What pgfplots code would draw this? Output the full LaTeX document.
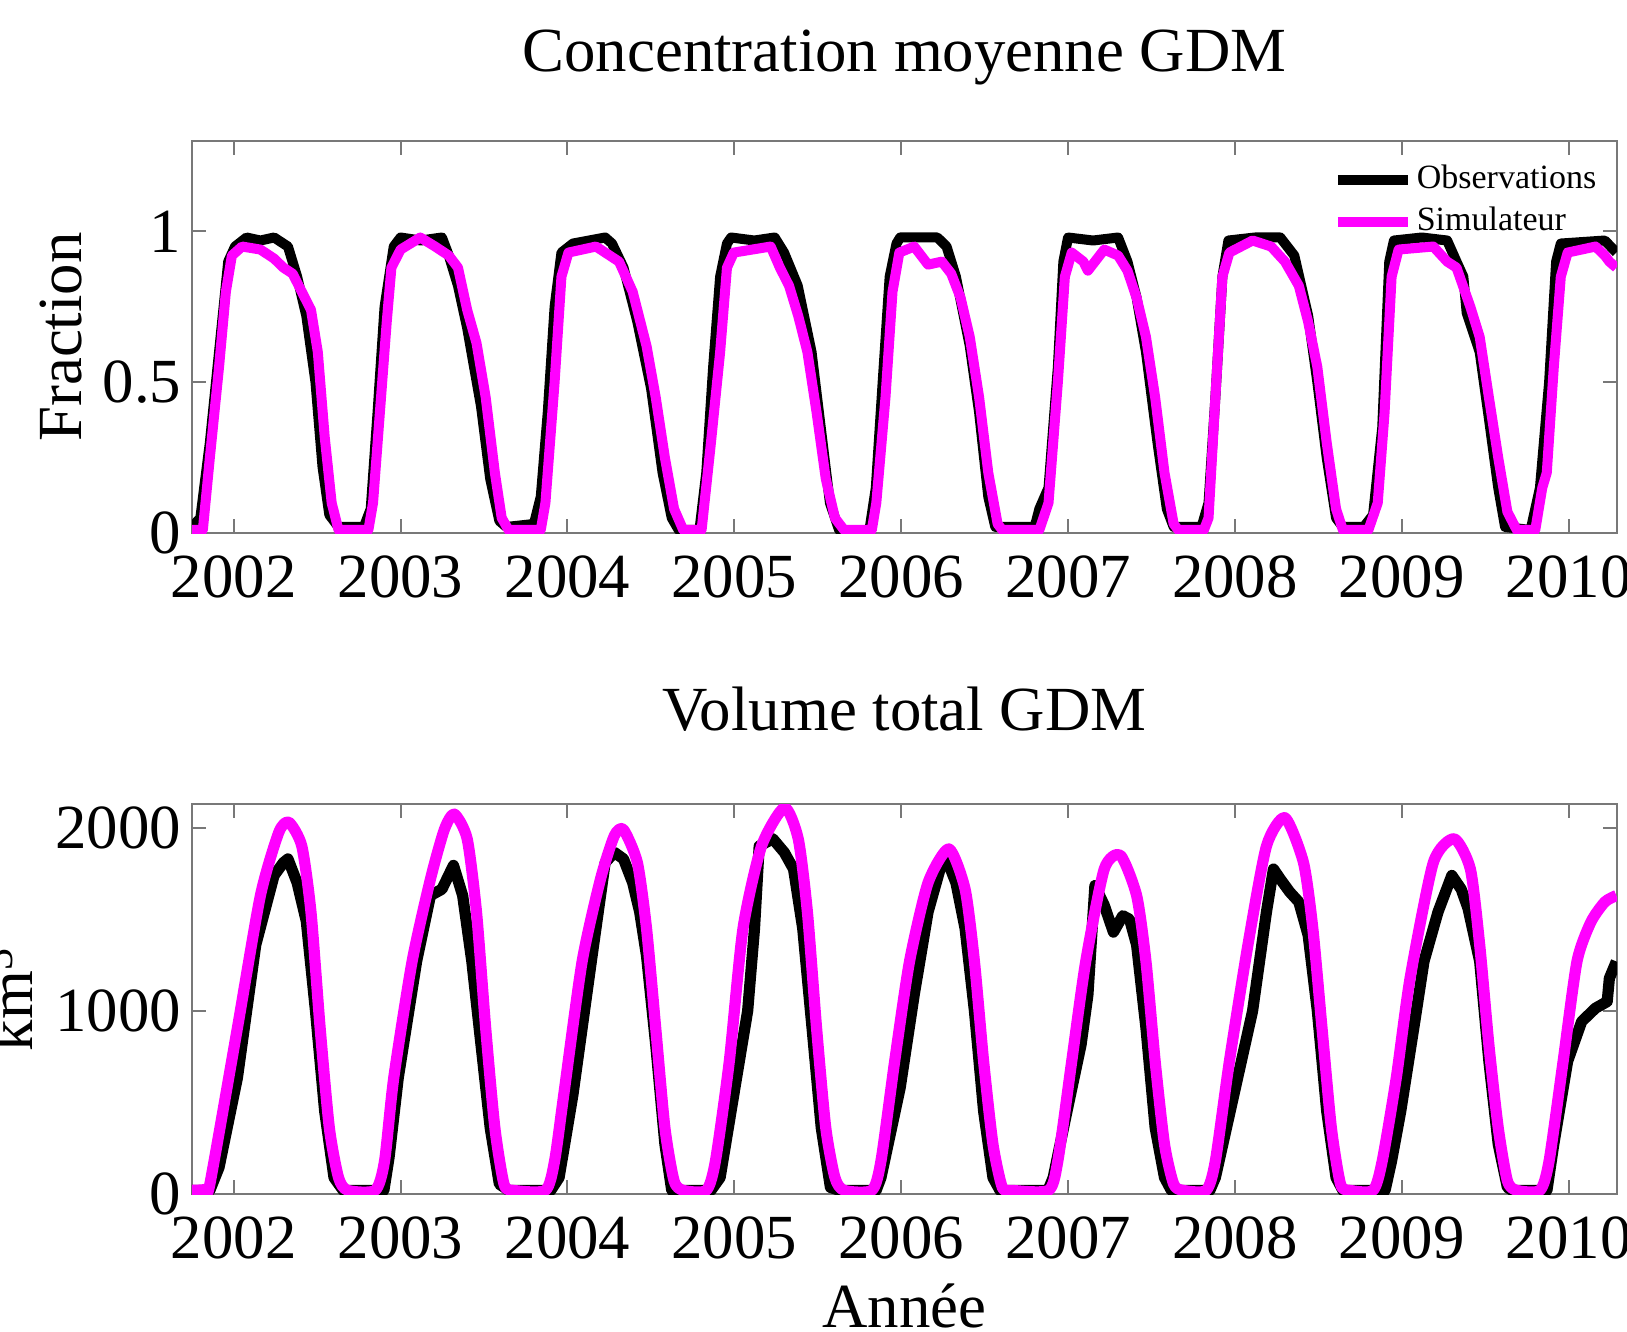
\documentclass[border=0pt]{standalone}
\usepackage{fontspec}
\setmainfont{Liberation Serif}
\usepackage{pgfplots}
\pgfplotsset{compat=1.18}

\definecolor{simmag}{RGB}{255,0,255}
\definecolor{axgray}{RGB}{120,120,120}

\pgfplotsset{
  gdm/.style={
    scale only axis, width=356.25pt, anchor=south west,
    xmin=2001.75, xmax=2010.29,
    xtick={2002,2003,2004,2005,2006,2007,2008,2009,2010},
    tick align=inside, major tick length=3.5pt,
    axis line style={axgray, line width=0.5pt},
    every tick/.style={axgray, line width=0.5pt},
    /pgf/number format/1000 sep={},
    /pgf/number format/assume math mode=true,
    scaled ticks=false,
    font=\fontsize{15.7}{18}\selectfont,
    tick label style={font=\fontsize{15.7}{18}\selectfont, inner sep=1pt},
    xticklabel style={yshift=-4.5pt},
    yticklabel style={xshift=-1.5pt},
    every axis y label/.style={rotate=90, anchor=base},
  },
  obs/.style={black, line width=2.5pt, line join=round},
  sim/.style={simmag, line width=2.5pt, line join=round},
}

\begin{document}
\begin{tikzpicture}
\path[use as bounding box] (0,0) rectangle (406.75pt,332.75pt);

% top: mean concentration
\begin{axis}[gdm, at={(48pt,199.5pt)}, height=98pt,
  ymin=0, ymax=1.3, ytick={0,0.5,1},
  title={Concentration moyenne GDM},
  title style={at={(axis description cs:0.5,1)}, anchor=base, yshift=11.4pt},
  ylabel={Fraction},
  ylabel style={at={(axis description cs:-0.0772,0.5)}},
  legend cell align=left,
  legend style={at={(axis description cs:0.80,0.95)}, anchor=north west,
    draw=none, fill=none, font=\fontsize{8.5}{10}\selectfont,
    inner sep=0pt, row sep=1pt, nodes={inner sep=1pt}},
  legend image code/.code={\draw[#1, line width=2.5pt] (0pt,0pt) -- (17.5pt,0pt);},
]
\addplot[obs] coordinates {(2001.75,0.02)(2001.80,0.05)(2001.857,0.3)(2001.912,0.6)(2001.967,0.9)(2002.008,0.95)(2002.077,0.98)(2002.16,0.97)(2002.242,0.98)(2002.325,0.95)(2002.380,0.85)(2002.435,0.72)(2002.490,0.5)(2002.532,0.22)(2002.573,0.06)(2002.628,0.02)(2002.780,0.02)(2002.821,0.08)(2002.862,0.4)(2002.904,0.75)(2002.959,0.95)(2003.0,0.98)(2003.12,0.97)(2003.248,0.98)(2003.289,0.92)(2003.344,0.82)(2003.399,0.68)(2003.482,0.42)(2003.537,0.18)(2003.592,0.04)(2003.634,0.02)(2003.799,0.03)(2003.840,0.12)(2003.882,0.4)(2003.923,0.75)(2003.964,0.93)(2004.033,0.96)(2004.226,0.98)(2004.267,0.96)(2004.336,0.88)(2004.419,0.7)(2004.501,0.48)(2004.570,0.2)(2004.625,0.05)(2004.667,0.01)(2004.791,0.01)(2004.832,0.2)(2004.873,0.55)(2004.915,0.85)(2004.956,0.96)(2004.981,0.98)(2005.12,0.97)(2005.242,0.98)(2005.298,0.93)(2005.380,0.82)(2005.463,0.6)(2005.518,0.35)(2005.573,0.1)(2005.628,0.01)(2005.807,0.0)(2005.848,0.15)(2005.889,0.5)(2005.931,0.85)(2005.972,0.96)(2005.994,0.98)(2006.217,0.98)(2006.272,0.95)(2006.328,0.85)(2006.411,0.62)(2006.467,0.4)(2006.522,0.12)(2006.564,0.02)(2006.800,0.02)(2006.828,0.08)(2006.883,0.15)(2006.939,0.55)(2006.972,0.9)(2007.0,0.98)(2007.15,0.97)(2007.3,0.98)(2007.356,0.9)(2007.411,0.78)(2007.467,0.6)(2007.536,0.3)(2007.592,0.08)(2007.633,0.02)(2007.8,0.02)(2007.842,0.1)(2007.883,0.45)(2007.925,0.85)(2007.961,0.97)(2008.12,0.98)(2008.272,0.98)(2008.356,0.92)(2008.439,0.72)(2008.494,0.5)(2008.55,0.25)(2008.606,0.05)(2008.647,0.02)(2008.772,0.02)(2008.828,0.06)(2008.883,0.35)(2008.925,0.9)(2008.953,0.97)(2009.12,0.98)(2009.272,0.97)(2009.328,0.9)(2009.369,0.85)(2009.389,0.73)(2009.467,0.6)(2009.522,0.38)(2009.578,0.15)(2009.619,0.02)(2009.772,0.01)(2009.828,0.15)(2009.883,0.5)(2009.925,0.9)(2009.953,0.96)(2010.217,0.97)(2010.286,0.93)};
\addplot[sim] coordinates {(2001.75,0.01)(2001.815,0.01)(2001.857,0.25)(2001.912,0.55)(2001.953,0.8)(2001.989,0.92)(2002.050,0.95)(2002.160,0.94)(2002.242,0.91)(2002.298,0.88)(2002.353,0.86)(2002.408,0.8)(2002.463,0.74)(2002.504,0.6)(2002.545,0.32)(2002.587,0.1)(2002.628,0.01)(2002.807,0.01)(2002.835,0.1)(2002.876,0.4)(2002.917,0.7)(2002.945,0.88)(2003.0,0.94)(2003.118,0.98)(2003.207,0.95)(2003.289,0.92)(2003.344,0.88)(2003.399,0.74)(2003.455,0.63)(2003.510,0.45)(2003.565,0.2)(2003.606,0.05)(2003.647,0.01)(2003.840,0.01)(2003.868,0.1)(2003.923,0.5)(2003.964,0.85)(2004.006,0.93)(2004.171,0.95)(2004.309,0.9)(2004.391,0.8)(2004.474,0.62)(2004.529,0.45)(2004.584,0.25)(2004.639,0.08)(2004.694,0.01)(2004.804,0.01)(2004.860,0.3)(2004.915,0.6)(2004.956,0.88)(2004.997,0.93)(2005.218,0.95)(2005.273,0.88)(2005.328,0.82)(2005.383,0.72)(2005.438,0.6)(2005.493,0.4)(2005.548,0.18)(2005.603,0.05)(2005.658,0.01)(2005.824,0.01)(2005.851,0.1)(2005.906,0.45)(2005.948,0.8)(2005.989,0.93)(2006.078,0.95)(2006.161,0.89)(2006.244,0.9)(2006.3,0.86)(2006.356,0.78)(2006.411,0.65)(2006.467,0.45)(2006.522,0.2)(2006.578,0.03)(2006.606,0.01)(2006.828,0.01)(2006.883,0.1)(2006.939,0.5)(2006.981,0.85)(2007.022,0.93)(2007.092,0.9)(2007.119,0.87)(2007.217,0.94)(2007.3,0.92)(2007.356,0.87)(2007.411,0.78)(2007.467,0.65)(2007.522,0.45)(2007.578,0.2)(2007.633,0.03)(2007.661,0.01)(2007.814,0.01)(2007.842,0.05)(2007.883,0.45)(2007.925,0.85)(2007.967,0.93)(2008.106,0.97)(2008.217,0.95)(2008.3,0.9)(2008.383,0.82)(2008.439,0.7)(2008.494,0.55)(2008.55,0.3)(2008.606,0.08)(2008.647,0.01)(2008.8,0.01)(2008.856,0.1)(2008.897,0.4)(2008.939,0.85)(2008.981,0.94)(2009.189,0.95)(2009.272,0.9)(2009.328,0.88)(2009.411,0.75)(2009.467,0.65)(2009.522,0.45)(2009.578,0.25)(2009.633,0.07)(2009.689,0.01)(2009.8,0.01)(2009.842,0.15)(2009.869,0.2)(2009.911,0.55)(2009.953,0.85)(2009.994,0.93)(2010.161,0.95)(2010.217,0.92)(2010.244,0.9)(2010.286,0.88)};
\legend{Observations, Simulateur}
\end{axis}

% bottom: total volume
\begin{axis}[gdm, at={(48pt,34.25pt)}, height=97.5pt,
  ymin=0, ymax=2130, ytick={0,1000,2000},
  title={Volume total GDM},
  title style={at={(axis description cs:0.5,1)}, anchor=base, yshift=12.4pt},
  ylabel={km\textsuperscript{3}},
  ylabel style={at={(axis description cs:-0.1116,0.5)}},
  xlabel={Année},
  xlabel style={at={(axis description cs:0.5,0)}, anchor=base, yshift=-33.25pt},
]
\addplot[obs, line width=2.8pt] coordinates {(2001.75,20)(2001.857,20)(2001.912,145)(2002.022,634)(2002.132,1360)(2002.242,1740)(2002.298,1810)(2002.325,1830)(2002.380,1700)(2002.435,1490)(2002.490,1000)(2002.545,453)(2002.601,90)(2002.656,20)(2002.900,20)(2002.931,200)(2002.986,634)(2003.096,1270)(2003.179,1630)(2003.248,1665)(2003.317,1795)(2003.372,1630)(2003.427,1270)(2003.482,815)(2003.537,362)(2003.592,54)(2003.647,20)(2003.900,20)(2003.950,90)(2004.033,543)(2004.143,1270)(2004.226,1810)(2004.281,1866)(2004.336,1830)(2004.391,1700)(2004.433,1540)(2004.474,1300)(2004.529,815)(2004.584,272)(2004.625,20)(2004.860,20)(2004.915,90)(2004.997,543)(2005.080,1000)(2005.121,1450)(2005.149,1900)(2005.231,1940)(2005.300,1865)(2005.355,1775)(2005.410,1450)(2005.466,906)(2005.521,362)(2005.576,36)(2005.631,20)(2005.850,20)(2005.879,90)(2005.994,580)(2006.078,1087)(2006.161,1540)(2006.244,1810)(2006.272,1830)(2006.328,1700)(2006.383,1450)(2006.439,1000)(2006.494,453)(2006.550,90)(2006.592,20)(2006.880,20)(2006.911,90)(2006.994,453)(2007.078,815)(2007.119,1087)(2007.161,1685)(2007.217,1577)(2007.272,1430)(2007.328,1520)(2007.369,1500)(2007.411,1360)(2007.467,906)(2007.522,362)(2007.578,90)(2007.619,20)(2007.850,20)(2007.883,90)(2007.994,543)(2008.106,1000)(2008.189,1540)(2008.231,1775)(2008.272,1720)(2008.328,1650)(2008.383,1595)(2008.439,1413)(2008.494,1000)(2008.550,453)(2008.606,90)(2008.647,20)(2008.900,20)(2008.939,181)(2008.994,453)(2009.078,942)(2009.133,1270)(2009.217,1540)(2009.300,1740)(2009.356,1665)(2009.397,1560)(2009.467,1270)(2009.522,725)(2009.578,272)(2009.633,36)(2009.661,20)(2009.870,20)(2009.911,272)(2009.994,725)(2010.078,942)(2010.161,1015)(2010.231,1051)(2010.244,1178)(2010.286,1270)};
\addplot[sim, line width=2.8pt, smooth, tension=0.4] coordinates {(2001.75,20)(2001.829,25)(2001.857,54)(2002.022,906)(2002.160,1630)(2002.270,1975)(2002.331,2030)(2002.408,1900)(2002.463,1540)(2002.518,906)(2002.573,362)(2002.628,90)(2002.683,20)(2002.848,20)(2002.904,181)(2002.959,634)(2003.069,1270)(2003.179,1720)(2003.262,1990)(2003.322,2075)(2003.399,1940)(2003.455,1540)(2003.510,906)(2003.565,362)(2003.620,54)(2003.675,20)(2003.868,20)(2003.923,181)(2003.978,543)(2004.088,1270)(2004.198,1720)(2004.281,1957)(2004.336,1990)(2004.419,1810)(2004.474,1450)(2004.529,906)(2004.584,362)(2004.639,72)(2004.694,20)(2004.832,20)(2004.887,181)(2004.970,725)(2005.052,1450)(2005.163,1900)(2005.300,2110)(2005.383,1940)(2005.438,1540)(2005.493,906)(2005.548,362)(2005.603,90)(2005.658,20)(2005.824,20)(2005.879,181)(2005.961,725)(2006.050,1270)(2006.161,1700)(2006.286,1885)(2006.383,1665)(2006.439,1270)(2006.494,725)(2006.550,272)(2006.606,36)(2006.661,20)(2006.883,20)(2006.939,181)(2007.022,725)(2007.106,1270)(2007.217,1775)(2007.314,1850)(2007.411,1630)(2007.467,1270)(2007.522,725)(2007.578,272)(2007.633,54)(2007.689,20)(2007.828,20)(2007.883,181)(2007.967,725)(2008.078,1360)(2008.189,1900)(2008.300,2055)(2008.411,1810)(2008.467,1450)(2008.522,906)(2008.578,362)(2008.633,54)(2008.689,20)(2008.828,20)(2008.883,181)(2008.967,634)(2009.050,1180)(2009.189,1810)(2009.314,1940)(2009.411,1775)(2009.467,1360)(2009.522,815)(2009.578,362)(2009.633,72)(2009.689,20)(2009.828,20)(2009.883,181)(2009.967,725)(2010.050,1270)(2010.133,1485)(2010.217,1595)(2010.286,1630)};
\end{axis}
\end{tikzpicture}
\end{document}
